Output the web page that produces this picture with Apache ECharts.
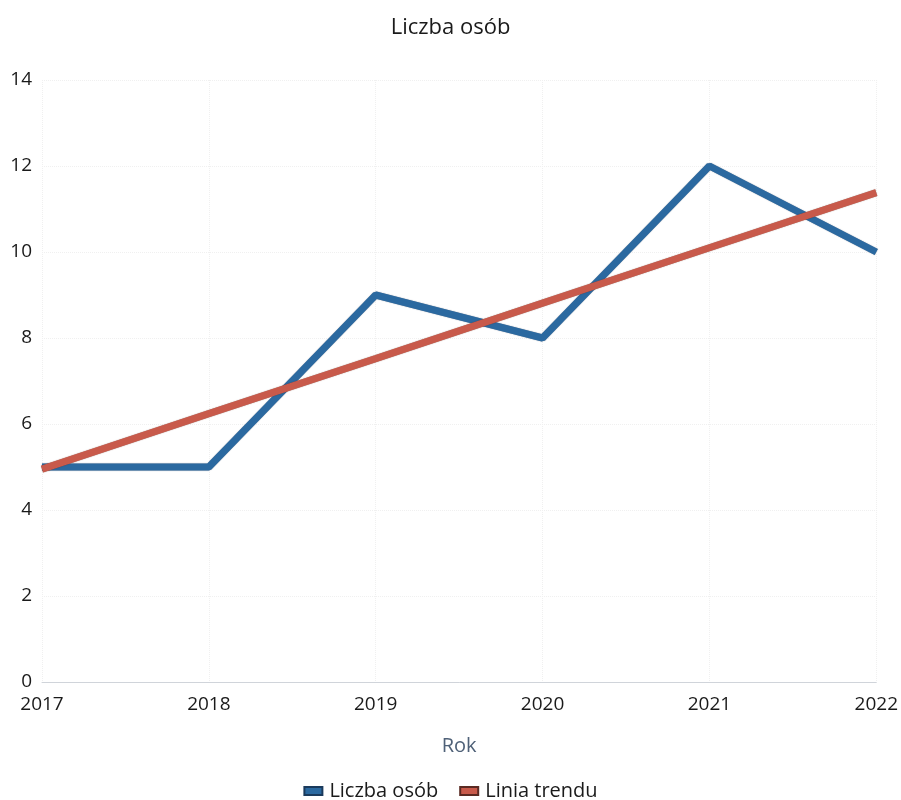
<!DOCTYPE html>
<html><head><meta charset="utf-8">
<script src="https://cdn.jsdelivr.net/npm/echarts@6/dist/echarts.min.js"></script>
<style>html,body{margin:0;padding:0;background:#fff}#c{width:901px;height:800px}</style>
</head><body><div id="c"></div>
<script>
const categories = ['2017','2018','2019','2020','2021','2022'];
const liczbaOsob = [5, 5, 9, 8, 12, 10];
const liniaTrendu = [4.95, 6.24, 7.52, 8.81, 10.1, 11.38];
const yTicks = [0, 2, 4, 6, 8, 10, 12, 14];

const chart = echarts.init(document.getElementById('c'));
chart.setOption({
  animation: false,
  title: { text: 'Liczba osób', left: 'center', top: 12, textStyle: { fontFamily: 'Open Sans', fontSize: 22, fontWeight: 'normal', color: '#1a1a1a' } },
  grid: { left: 42, right: 23, top: 80, bottom: 118, containLabel: false },
  xAxis: {
    type: 'category', data: categories, boundaryGap: false,
    name: 'Rok', nameLocation: 'middle', nameGap: 54,
    nameTextStyle: { fontFamily: 'Open Sans', fontSize: 20, color: '#4f6178' },
    axisLine: { lineStyle: { color: '#d0d4da', width: 1 } },
    axisTick: { show: false },
    axisLabel: { fontFamily: 'Open Sans', fontSize: 19, color: '#1a1a1a', margin: 13 },
    splitLine: { show: true, lineStyle: { color: '#f0f0f0', type: 'dotted' } }
  },
  yAxis: {
    type: 'value', min: yTicks[0], max: yTicks[yTicks.length-1], interval: 2,
    axisLine: { show: false }, axisTick: { show: false },
    axisLabel: { fontFamily: 'Open Sans', fontSize: 19, color: '#1a1a1a', margin: 10 },
    splitLine: { lineStyle: { color: '#f0f0f0', type: 'dotted' } }
  },
  legend: {
    top: 776, left: 'center', itemWidth: 18, itemHeight: 8, itemGap: 21, icon: 'rect',
    textStyle: { fontFamily: 'Open Sans', fontSize: 20, color: '#1a1a1a', padding: [0, 0, 0, 2] },
    data: ['Liczba osób', 'Linia trendu']
  },
  series: [
    { name: 'Liczba osób', type: 'line', data: liczbaOsob, showSymbol: false, symbol: 'none',
      itemStyle: { color: '#2b69a0', borderColor: '#1a3a5c', borderWidth: 1 },
      lineStyle: { width: 7, color: '#2b69a0', shadowColor: 'rgba(20,40,70,0.6)', shadowBlur: 1 }, z: 2 },
    { name: 'Linia trendu', type: 'line', data: liniaTrendu, showSymbol: false, symbol: 'none',
      itemStyle: { color: '#c85a4b', borderColor: '#5a2a22', borderWidth: 1 },
      lineStyle: { width: 7, color: '#c85a4b', shadowColor: 'rgba(80,30,20,0.6)', shadowBlur: 1 }, z: 3 }
  ]
});
</script></body></html>
